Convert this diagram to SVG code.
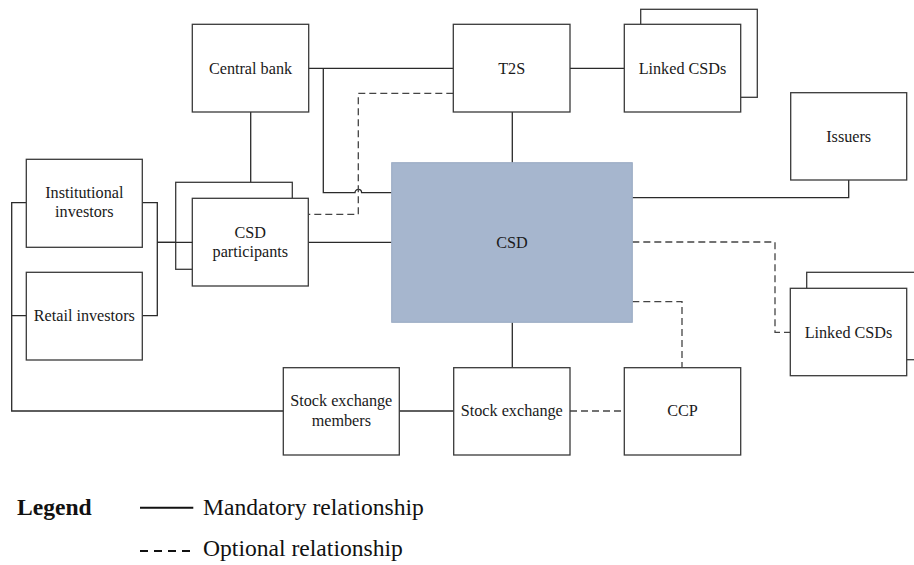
<svg xmlns="http://www.w3.org/2000/svg" width="914" height="565" viewBox="0 0 914 565" font-family="'Liberation Serif', 'DejaVu Serif', 'Times New Roman', Times, serif">
<style>
.box{fill:#fff;stroke:#3a3a3a;stroke-width:1.3}
.csd{fill:#a6b6ce;stroke:#98a9c2;stroke-width:1}
.t{font-size:16.2px;fill:#1a1a1a;text-anchor:middle}
.s{fill:none;stroke:#2a2a2a;stroke-width:1.3}
.d{fill:none;stroke:#444;stroke-width:1.3;stroke-dasharray:7 4}
.lg{font-size:23.6px;fill:#111}
</style>
<rect width="914" height="565" fill="#fff"/>
<g id="connectors">
<path class="s" d="M309,68.3 H453.3"/>
<path class="s" d="M323.3,68.3 V192.7 H355 A3.3,3.3 0 0 1 361.6,192.7 H391.7"/>
<path class="s" d="M570,68.3 H624.3"/>
<path class="s" d="M512.3,112 V162.7"/>
<path class="s" d="M250.7,112 V198.3"/>
<path class="s" d="M308.3,242.3 H391.7"/>
<path class="s" d="M142.3,202.7 H157.3 V315.7 H142.3 M157.3,242.3 H192.3"/>
<path class="s" d="M26.3,202.7 H11.7 V411 H283.3 M11.7,315.7 H26.3"/>
<path class="s" d="M399.3,411 H453.7"/>
<path class="s" d="M512.3,322.3 V367.7"/>
<path class="s" d="M632.3,197.7 H848.7 V180"/>
<path class="d" d="M453.3,93.3 H358.3 V214.3 H308.3"/>
<path class="d" d="M632.3,242 H775 V332.3 H790.3"/>
<path class="d" d="M632.3,301.7 H682 V367.7"/>
<path class="d" d="M570,411 H624.3"/>
</g>
<g id="central-bank"><rect class="box" x="192.3" y="24.3" width="116.4" height="87.7"/><text class="t" x="250.5" y="73.5">Central bank</text></g>
<g id="t2s"><rect class="box" x="453.3" y="24.3" width="116.7" height="87.7"/><text class="t" x="511.7" y="73.5">T2S</text></g>
<g id="linked-csds-top"><rect class="box" x="640.7" y="9.3" width="116.6" height="88"/><rect class="box" x="624.3" y="24.3" width="116.4" height="87.7"/><text class="t" x="682.5" y="73.5">Linked CSDs</text></g>
<g id="issuers"><rect class="box" x="790.7" y="92.7" width="116" height="87.3"/><text class="t" x="848.7" y="142">Issuers</text></g>
<g id="csd"><rect class="csd" x="391.7" y="162.7" width="240.6" height="159.6"/><text class="t" x="512" y="247.5">CSD</text></g>
<g id="csd-participants"><rect class="box" x="175.7" y="182.3" width="116.6" height="87"/><rect class="box" x="192.3" y="198.3" width="116" height="87.7"/><path class="s" d="M157.3,242.3 H192.3"/><text class="t" x="250.3" y="238">CSD</text><text class="t" x="250.3" y="257">participants</text></g>
<g id="institutional-investors"><rect class="box" x="26.3" y="159.3" width="116" height="88"/><text class="t" x="84.3" y="198">Institutional</text><text class="t" x="84.3" y="217">investors</text></g>
<g id="retail-investors"><rect class="box" x="26.3" y="272.3" width="116" height="87.7"/><text class="t" x="84.3" y="321">Retail investors</text></g>
<g id="linked-csds-right"><rect class="box" x="806.7" y="272.3" width="130" height="87.4"/><rect class="box" x="790.3" y="288.3" width="116.4" height="87.4"/><text class="t" x="848.5" y="337.5">Linked CSDs</text></g>
<g id="stock-exchange-members"><rect class="box" x="283.3" y="367.7" width="116" height="87.3"/><text class="t" x="341.3" y="406">Stock exchange</text><text class="t" x="341.3" y="426">members</text></g>
<g id="stock-exchange"><rect class="box" x="453.7" y="367.7" width="116.3" height="87.3"/><text class="t" x="511.8" y="416">Stock exchange</text></g>
<g id="ccp"><rect class="box" x="624.3" y="367.7" width="116.4" height="87.3"/><text class="t" x="682.5" y="416">CCP</text></g>
<g id="legend">
<text class="lg" x="17" y="515" font-weight="bold">Legend</text>
<path d="M140,507.7 H193.3" stroke="#111" stroke-width="2" fill="none"/>
<text class="lg" x="203" y="515">Mandatory relationship</text>
<path d="M140,551 H191" stroke="#111" stroke-width="2" stroke-dasharray="8 6" fill="none"/>
<text class="lg" x="203" y="556">Optional relationship</text>
</g>
</svg>
